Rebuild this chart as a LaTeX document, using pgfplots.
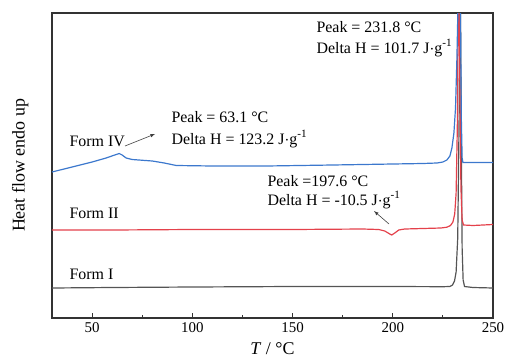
\documentclass[border=0pt]{standalone}
\usepackage{pgfplots}
\pgfplotsset{compat=1.18}
\usepackage{fontspec}
\setmainfont{Liberation Serif}
\definecolor{cblue}{RGB}{60,120,205}
\definecolor{cred}{RGB}{228,65,75}
\definecolor{cgray}{RGB}{85,85,85}
\begin{document}
\begin{tikzpicture}
\begin{axis}[
  at={(52bp,-13bp)}, anchor=north west,
  width=441bp, height=305bp, scale only axis,
  xmin=30, xmax=250, ymin=0, ymax=305,
  xtick={50,100,150,200,250},
  minor xtick={75,125,175,225},
  ytick=\empty,
  xtick pos=bottom, tick align=inside,
  major tick length=5bp, minor tick length=3bp,
  axis line style={draw=black!80, line width=1.1pt},
  every tick/.style={black!80, line width=0.8pt},
  /pgf/number format/assume math mode=true,
  xticklabel style={font=\fontsize{15}{17}\selectfont, yshift=-1bp},
  xlabel={\textit{T} / \textdegree C},
  label style={font=\fontsize{18}{20}\selectfont},
  xlabel style={yshift=-3bp},
  ylabel={Heat flow endo up},
  ylabel style={yshift=20bp},
  clip=true,
]
% Form I
\addplot[cgray, line width=1.2pt] coordinates {
(30,30) (60,30.5) (100,31) (150,31.5) (200,31.5) (225,31.3) (228.5,31.5)
(229.8,33) (230.8,37) (231.6,46) (232.4,80) (233.1,200) (233.6,380)
(234.1,200) (234.6,70) (235.1,38) (235.8,31.5) (240,30.5) (250,30)
};
% Form II
\addplot[cred, line width=1.2pt] coordinates {
(30,88) (60,88) (100,88.5) (150,88.5) (185,89) (193,88.5) (196,87)
(198.5,84) (199.5,83) (201,85) (203,88) (206,89) (215,89.5) (224,90)
(227,90.8) (228.8,92.5) (230,96) (230.9,104) (231.6,125) (232.2,190)
(232.8,360) (233.4,250) (234,130) (234.6,98) (235.3,93) (240,92.5) (250,93.5)
};
% Form IV
\addplot[cblue, line width=1.2pt] coordinates {
(30,146) (40,151) (50,156) (57,160) (62,163.5) (63.5,164.5) (65,163)
(67,160) (70,158.5) (80,157) (86,155) (92,152.5) (110,152) (137,152)
(170,153) (200,154) (215,154.5) (222,155) (225,156) (227,158)
(228.5,162) (229.5,170) (230.5,185) (231.3,210) (232,260) (232.7,330)
(233.2,420) (233.8,300) (234.2,200) (234.6,160) (235,155.5) (240,155.5) (250,155.5)
};
\end{axis}
\begin{scope}[font=\fontsize{16}{18}\selectfont]
\node[anchor=west] at (313bp,-27bp) {Peak = 231.8 \textdegree C};
\node[anchor=west] at (313bp,-48bp) {Delta H = 101.7 J$\cdot$g\textsuperscript{-1}};
\node[anchor=west] at (168bp,-117bp) {Peak = 63.1 \textdegree C};
\node[anchor=west] at (168bp,-139bp) {Delta H = 123.2 J$\cdot$g\textsuperscript{-1}};
\node[anchor=west] at (264bp,-181bp) {Peak =197.6 \textdegree C};
\node[anchor=west] at (264bp,-200bp) {Delta H = -10.5 J$\cdot$g\textsuperscript{-1}};
\node[anchor=west] at (66bp,-141bp) {Form IV};
\node[anchor=west] at (66bp,-213bp) {Form II};
\node[anchor=west] at (66bp,-274bp) {Form I};
\end{scope}
\draw[-latex, black!75, line width=0.6pt] (125bp,-146bp) -- (155bp,-134bp);
\draw[-latex, black!75, line width=0.6pt] (389bp,-224bp) -- (374bp,-211bp);
\pgfresetboundingbox
\path (0,0) rectangle (505bp,-360bp);
\end{tikzpicture}
\end{document}
